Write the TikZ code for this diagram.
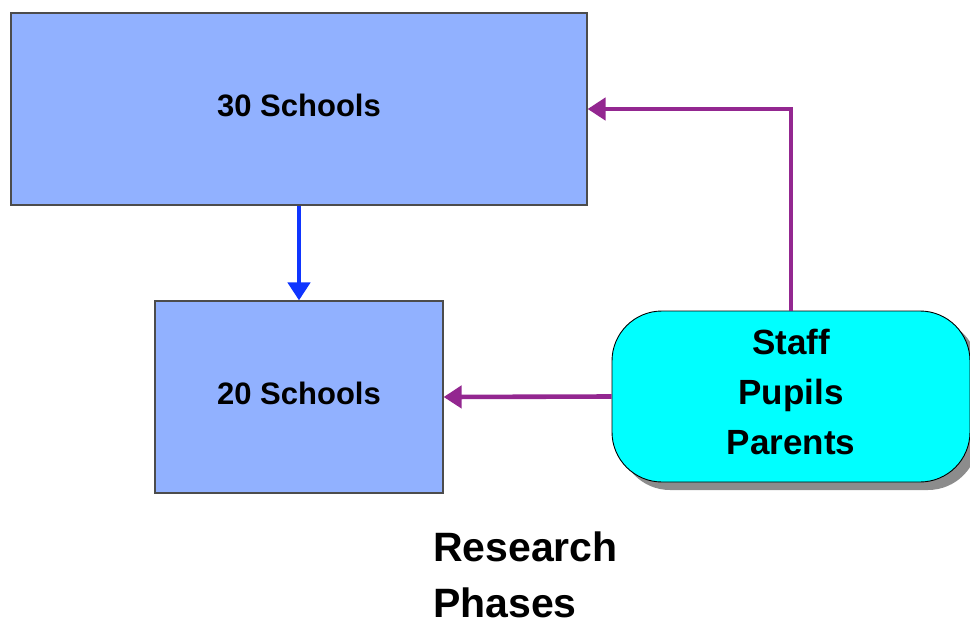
\documentclass[tikz,border=0pt]{standalone}
\usepackage{fontspec}
\setmainfont{Liberation Sans}
\usetikzlibrary{arrows.meta,shadows}
\definecolor{boxblue}{HTML}{91B1FF}
\definecolor{groupcyan}{HTML}{00FFFF}
\definecolor{linkpurple}{HTML}{932790}
\definecolor{linkblue}{HTML}{0F35FF}
\tikzset{
  schoolbox/.style={draw=black!70, line width=1.2pt, fill=boxblue, inner sep=0pt,
    text depth=8pt, font=\bfseries\fontsize{31}{37}\selectfont},
  groupbox/.style={draw=black, line width=0.9pt, fill=groupcyan, rounded corners=50pt,
    inner sep=0pt, align=center, text depth=10pt,
    font=\bfseries\fontsize{35}{50}\selectfont,
    drop shadow={shadow xshift=8pt, shadow yshift=-8pt, fill=black!45, opacity=1}},
  link/.style={line width=4.6pt, -{Triangle[length=18pt,width=22pt]}},
}
\begin{document}
\begin{tikzpicture}[x=1pt,y=-1pt]
\useasboundingbox (0,0) rectangle (970,627);
\node[schoolbox, minimum width=576pt, minimum height=192pt] (s30) at (299,109) {30 Schools};
\node[schoolbox, minimum width=288pt, minimum height=192pt] (s20) at (299,397) {20 Schools};
\node[groupbox, minimum width=358pt, minimum height=171pt] (grp) at (791,396.5) {Staff\\Pupils\\Parents};
\node[anchor=north west, inner sep=0pt, align=left, text depth=0pt,
  font=\bfseries\fontsize{41}{56}\selectfont] (title) at (433,532) {Research\\Phases};
\draw[link, draw=linkblue] (s30.south) -- (s20.north);
\draw[link, draw=linkpurple] (grp.north) |- (s30.east);
\draw[link, draw=linkpurple] (grp.west) -- (s20.east);
\end{tikzpicture}
\end{document}
